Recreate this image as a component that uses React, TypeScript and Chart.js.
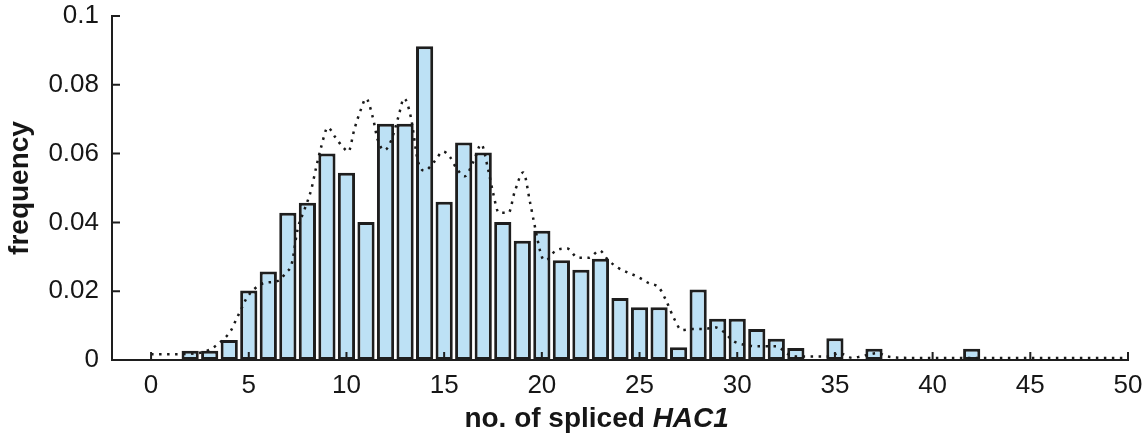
import React, { useEffect, useRef } from 'react';
import { Chart, registerables } from 'chart.js';

Chart.register(...registerables);

// Histogram bins (no. of spliced HAC1) and their frequencies
const binCenters = [2, 3, 4, 5, 6, 7, 8, 9, 10, 11, 12, 13, 14, 15, 16, 17, 18, 19, 20, 21, 22, 23, 24, 25, 26, 27, 28, 29, 30, 31, 32, 33, 35, 37, 42];
const binFreq = [0.0027, 0.0027, 0.0058, 0.0202, 0.0257, 0.0428, 0.0457, 0.060, 0.0544, 0.0401, 0.0687, 0.0687, 0.0912, 0.046, 0.0632, 0.0603, 0.0401, 0.0347, 0.0376, 0.029, 0.0262, 0.0294, 0.018, 0.0153, 0.0153, 0.0037, 0.0205, 0.012, 0.012, 0.009, 0.0062, 0.0035, 0.0063, 0.0033, 0.0033];

// Dotted model curve
const modelX = [0, 1, 2, 3, 3.5, 4.1, 4.35, 4.6, 4.87, 5.3, 5.8, 6.5, 6.9, 7.2, 7.5, 7.85, 8.2, 8.45, 8.7, 9.05, 9.4, 9.8, 10.1, 10.4, 10.75, 11.0, 11.35, 11.6, 11.95, 12.3, 12.65, 12.95, 13.3, 13.65, 14.0, 14.5, 14.95, 15.3, 15.6, 16.05, 16.5, 16.9, 17.25, 17.5, 17.8, 18.3, 18.6, 19.05, 19.4, 19.6, 20.0, 20.2, 20.75, 21.3, 21.85, 22.4, 22.95, 23.4, 23.9, 24.4, 24.9, 25.45, 26.0, 26.3, 26.8, 27.15, 27.7, 28.3, 28.85, 29.3, 29.8, 30.4, 31.0, 31.5, 32.0, 32.6, 33.1, 34.7, 35.2, 35.9, 36.3, 37.2, 37.7, 39, 42, 45, 48, 50];
const modelY = [0.0017, 0.0017, 0.0018, 0.003, 0.005, 0.0087, 0.0117, 0.0146, 0.0178, 0.0207, 0.0224, 0.023, 0.0254, 0.028, 0.038, 0.0437, 0.0496, 0.056, 0.0618, 0.0676, 0.065, 0.062, 0.0606, 0.067, 0.073, 0.076, 0.0705, 0.064, 0.061, 0.064, 0.0705, 0.076, 0.0705, 0.058, 0.055, 0.0577, 0.0606, 0.059, 0.056, 0.0534, 0.0577, 0.0627, 0.0554, 0.0487, 0.0428, 0.0428, 0.0487, 0.0545, 0.0457, 0.040, 0.030, 0.029, 0.032, 0.0324, 0.0297, 0.0297, 0.0318, 0.029, 0.0268, 0.0254, 0.0242, 0.0224, 0.021, 0.018, 0.0117, 0.0087, 0.009, 0.009, 0.0095, 0.0082, 0.0055, 0.0044, 0.004, 0.004, 0.004, 0.0017, 0.001, 0.001, 0.002, 0.0006, 0.001, 0.002, 0.001, 0.0006, 0.0006, 0.0006, 0.0006, 0.0006];

const xTicks = [0, 5, 10, 15, 20, 25, 30, 35, 40, 45, 50];
const yTicks = [0, 0.02, 0.04, 0.06, 0.08, 0.1];
const yTickLabels = ['0', '0.02', '0.04', '0.06', '0.08', '0.1'];
const xRange = [-2, 50];
const yRange = [0, 0.1];

const xTitleMain = 'no. of spliced ';
const xTitleGene = 'HAC1';
const yTitle = 'frequency';

const FONT = '"Liberation Sans", Arial, Helvetica, sans-serif';
const AXIS_COLOR = '#1e1e1e';
const TEXT_COLOR = '#161616';
const BAR_FILL = '#bde1f5';

const inwardTicks = {
  id: 'inwardTicks',
  afterDatasetsDraw(chart: any) {
    const { ctx, chartArea, scales } = chart;
    ctx.save();
    ctx.strokeStyle = AXIS_COLOR;
    ctx.lineWidth = 2;
    ctx.beginPath();
    scales.x.ticks.forEach((t: any) => {
      const px = scales.x.getPixelForValue(t.value);
      ctx.moveTo(px, chartArea.bottom);
      ctx.lineTo(px, chartArea.bottom - 8);
    });
    scales.y.ticks.forEach((t: any) => {
      const py = scales.y.getPixelForValue(t.value);
      ctx.moveTo(chartArea.left, py);
      ctx.lineTo(chartArea.left + 8, py);
    });
    ctx.stroke();
    ctx.restore();
  },
};

const xTitlePlugin = {
  id: 'xTitlePlugin',
  afterDraw(chart: any) {
    const { ctx, chartArea } = chart;
    ctx.save();
    const f1 = `bold 28px ${FONT}`;
    const f2 = `italic bold 28px ${FONT}`;
    ctx.font = f1;
    const w1 = ctx.measureText(xTitleMain).width;
    ctx.font = f2;
    const w2 = ctx.measureText(xTitleGene).width;
    const cx = chartArea.left + chartArea.width * 0.477;
    const y = chart.height - 17;
    const x0 = cx - (w1 + w2) / 2;
    ctx.fillStyle = TEXT_COLOR;
    ctx.textBaseline = 'middle';
    ctx.textAlign = 'left';
    ctx.font = f1;
    ctx.fillText(xTitleMain, x0, y);
    ctx.font = f2;
    ctx.fillText(xTitleGene, x0 + w1, y);
    ctx.restore();
  },
};

export default function App() {
  const ref = useRef<HTMLCanvasElement | null>(null);

  useEffect(() => {
    if (!ref.current) return;
    const chart = new Chart(ref.current, {
      type: 'bar',
      data: {
        datasets: [
          {
            type: 'line',
            data: modelX.map((x, i) => ({ x, y: modelY[i] })),
            borderColor: '#1a1a1a',
            borderWidth: 2.5,
            borderDash: [2.5, 5.5],
            pointRadius: 0,
            fill: false,
            cubicInterpolationMode: 'monotone',
            order: 0,
          } as any,
          {
            type: 'bar',
            data: binCenters.map((x, i) => ({ x, y: binFreq[i] })),
            backgroundColor: BAR_FILL,
            borderColor: AXIS_COLOR,
            borderWidth: 3,
            borderSkipped: false,
            barPercentage: 0.88,
            categoryPercentage: 1,
            order: 1,
          } as any,
        ],
      },
      options: {
        animation: false,
        responsive: true,
        maintainAspectRatio: false,
        layout: { padding: { top: 16, right: 20, left: 0, bottom: 0 } },
        plugins: {
          legend: { display: false },
          tooltip: { enabled: false },
        },
        scales: {
          x: {
            type: 'linear',
            min: xRange[0],
            max: xRange[1],
            offset: false,
            afterBuildTicks: (scale: any) => {
              scale.ticks = xTicks.map((v) => ({ value: v }));
            },
            afterFit: (scale: any) => {
              scale.height = 76;
              scale.paddingLeft = 0;
              scale.paddingRight = 0;
            },
            grid: { display: false, drawTicks: false },
            border: { display: true, color: AXIS_COLOR, width: 2 },
            ticks: {
              padding: 10,
              color: TEXT_COLOR,
              font: { family: FONT, size: 26 },
              callback: (v: any) => String(v),
              maxRotation: 0,
            },
          },
          y: {
            type: 'linear',
            min: yRange[0],
            max: yRange[1],
            afterBuildTicks: (scale: any) => {
              scale.ticks = yTicks.map((v) => ({ value: v }));
            },
            afterFit: (scale: any) => {
              scale.width = 112;
              scale.paddingTop = 0;
              scale.paddingBottom = 0;
            },
            grid: { display: false, drawTicks: false },
            border: { display: true, color: AXIS_COLOR, width: 2 },
            ticks: {
              padding: 13,
              color: TEXT_COLOR,
              font: { family: FONT, size: 26 },
              callback: (v: any) => {
                const i = yTicks.findIndex((t) => Math.abs(t - v) < 1e-9);
                return i >= 0 ? yTickLabels[i] : '';
              },
            },
            title: {
              display: true,
              text: yTitle,
              color: TEXT_COLOR,
              font: { family: FONT, size: 28, weight: 'bold' },
              padding: { top: 3, bottom: 0 },
            },
          },
        },
      },
      plugins: [inwardTicks, xTitlePlugin],
    } as any);
    return () => chart.destroy();
  }, []);

  return (
    <div style={{ position: 'fixed', left: 0, top: 0, width: 1148, height: 436, background: '#fff' }}>
      <canvas ref={ref} />
    </div>
  );
}
